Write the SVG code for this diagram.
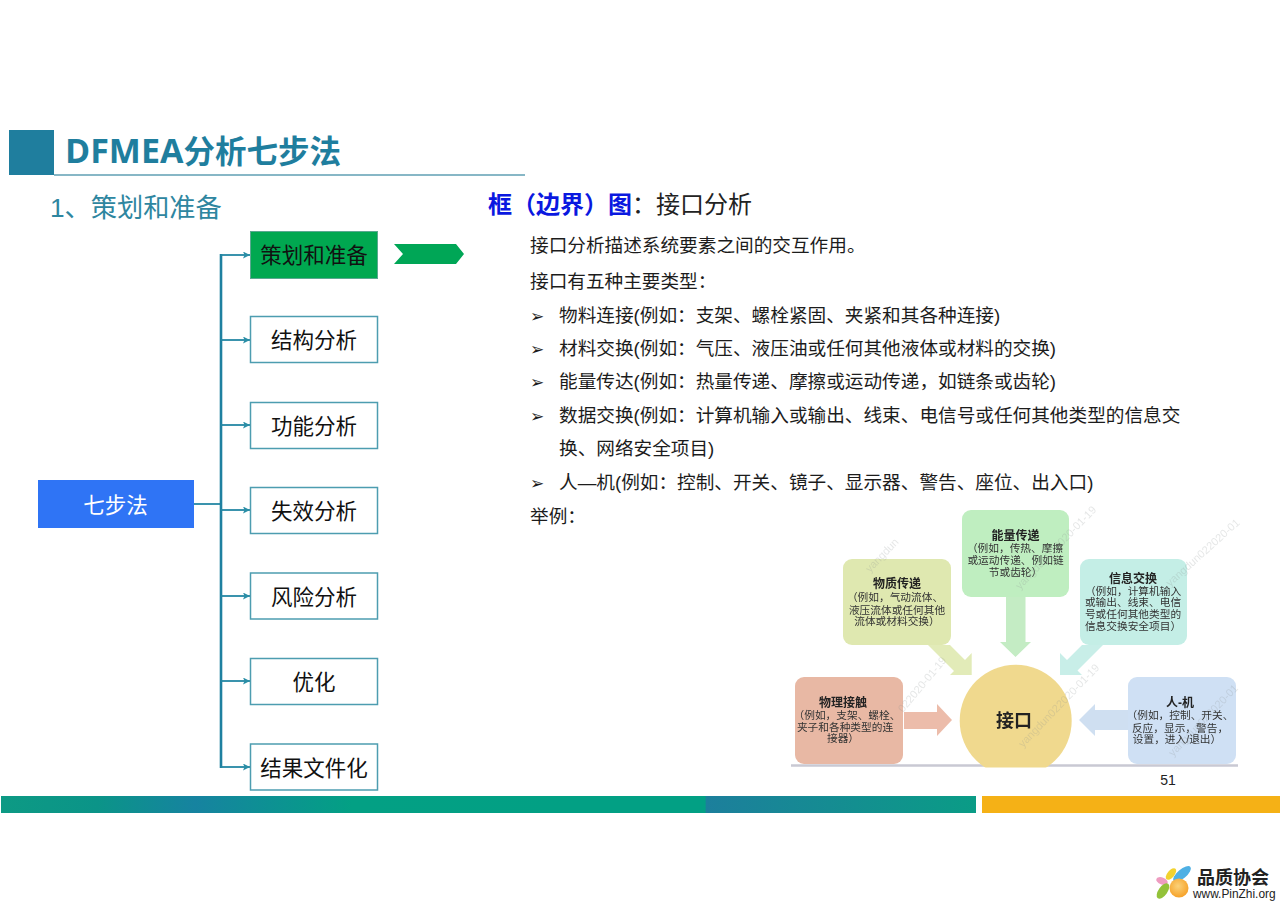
<svg xmlns="http://www.w3.org/2000/svg" width="1280" height="905" viewBox="0 0 1280 905">
<style>
text{font-family:"Liberation Sans","Noto Sans CJK SC",sans-serif}
.box{fill:#fff;stroke:#4d9db0;stroke-width:1.5}
.bt{font-size:21.5px;fill:#111;text-anchor:middle}
.li{font-size:18.65px;fill:#1c1c1c}
.bu{font-size:17px;fill:#1c1c1c;font-family:"DejaVu Sans",sans-serif}
.wire{fill:none;stroke:#2487a4;stroke-width:1.8}
.trunk{fill:none;stroke:#1f80a0;stroke-width:2.6}
.ih{font-size:12px;font-weight:700;fill:#222;text-anchor:middle}
.it{font-size:10.7px;fill:#333;text-anchor:middle}
.wm{font-size:11px;fill:#8a9090;opacity:.22;font-family:"Liberation Sans",sans-serif}
</style>
<defs>
<marker id="ah" markerWidth="8" markerHeight="8" refX="7" refY="3.5" orient="auto" markerUnits="userSpaceOnUse"><path d="M0 0L7 3.5L0 7L1.5 3.5Z" fill="#2a8ea6"/></marker>
<linearGradient id="bar1" gradientUnits="userSpaceOnUse" x1="0" y1="0" x2="976" y2="0">
<stop offset="0" stop-color="#0d9a84"/><stop offset=".1" stop-color="#0b9488"/><stop offset=".2" stop-color="#1683a0"/><stop offset=".36" stop-color="#03a084"/><stop offset=".59" stop-color="#02a084"/><stop offset=".7225" stop-color="#02a084"/><stop offset=".7235" stop-color="#1c7f9c"/><stop offset=".85" stop-color="#158c92"/><stop offset="1" stop-color="#0a9c86"/>
</linearGradient>
<radialGradient id="org" cx=".45" cy=".4" r=".7"><stop offset="0" stop-color="#fbd27a"/><stop offset="1" stop-color="#f59a1c"/></radialGradient>
<clipPath id="cc"><rect x="780" y="500" width="470" height="267.500"/></clipPath>
<filter id="soft" x="-2%" y="-2%" width="104%" height="104%"><feGaussianBlur stdDeviation="0.45"/></filter>
</defs>

<g id="title">
<rect x="9" y="130" width="45" height="45" fill="#1f7e9e"/>
<path d="M54 175H525" stroke="#5f9fb3" stroke-width="1.500"/>
<text x="65" y="163" font-size="31.500" font-weight="700" fill="#1f7e9e"><tspan font-family="'Open Sans',sans-serif" font-size="34">DFMEA</tspan>分析七步法</text>
<text x="50" y="217" font-size="26.200" fill="#2e86a0">1、策划和准备</text>
</g>

<g id="connectors">
<path class="wire" d="M194 504H221"/>
<path class="trunk" d="M221 254V768"/>
<path class="wire" marker-end="url(#ah)" d="M221 255H250"/>
<path class="wire" marker-end="url(#ah)" d="M221 340H250"/>
<path class="wire" marker-end="url(#ah)" d="M221 425H250"/>
<path class="wire" marker-end="url(#ah)" d="M221 510H250"/>
<path class="wire" marker-end="url(#ah)" d="M221 596H250"/>
<path class="wire" marker-end="url(#ah)" d="M221 681H250"/>
<path class="wire" marker-end="url(#ah)" d="M221 767H250"/>
</g>

<g id="node-root"><rect x="38" y="480" width="156" height="48" fill="#2f74f5"/><text x="115.500" y="513" font-size="21.500" fill="#fff" text-anchor="middle">七步法</text></g>
<g id="node-1"><rect x="250.500" y="231.500" width="127" height="47" fill="#00a850" stroke="#5aa890"/><text class="bt" x="314" y="263">策划和准备</text></g>
<g id="node-2"><rect class="box" x="250.500" y="316.500" width="127" height="46"/><text class="bt" x="314" y="348">结构分析</text></g>
<g id="node-3"><rect class="box" x="250.500" y="402.500" width="127" height="46"/><text class="bt" x="314" y="434">功能分析</text></g>
<g id="node-4"><rect class="box" x="250.500" y="487.500" width="127" height="46"/><text class="bt" x="314" y="519">失效分析</text></g>
<g id="node-5"><rect class="box" x="250.500" y="573" width="127" height="46"/><text class="bt" x="314" y="605">风险分析</text></g>
<g id="node-6"><rect class="box" x="250.500" y="658.500" width="127" height="46"/><text class="bt" x="314" y="690">优化</text></g>
<g id="node-7"><rect class="box" x="250.500" y="744" width="127" height="46"/><text class="bt" x="314" y="776">结果文件化</text></g>

<polygon id="chevron" points="394,244 456,244 464,254 456,264 394,264 403,254" fill="#00a656"/>

<g id="content">
<text x="488" y="213" font-size="24" font-weight="700" fill="#0a18e0">框（边界）图<tspan font-weight="400" fill="#222">：接口分析</tspan></text>
<text class="li" x="530" y="252">接口分析描述系统要素之间的交互作用。</text>
<text class="li" x="530" y="288">接口有五种主要类型：</text>
<text class="bu" x="530" y="322">➢</text><text class="li" x="559" y="322">物料连接(例如：支架、螺栓紧固、夹紧和其各种连接)</text>
<text class="bu" x="530" y="355">➢</text><text class="li" x="559" y="355">材料交换(例如：气压、液压油或任何其他液体或材料的交换)</text>
<text class="bu" x="530" y="388">➢</text><text class="li" x="559" y="388">能量传达(例如：热量传递、摩擦或运动传递，如链条或齿轮)</text>
<text class="bu" x="530" y="422">➢</text><text class="li" x="559" y="422">数据交换(例如：计算机输入或输出、线束、电信号或任何其他类型的信息交</text>
<text class="li" x="559" y="455">换、网络安全项目)</text>
<text class="bu" x="530" y="489">➢</text><text class="li" x="559" y="489">人—机(例如：控制、开关、镜子、显示器、警告、座位、出入口)</text>
<text class="li" x="530" y="523">举例：</text>
</g>

<g id="inset" filter="url(#soft)">
<path d="M791 765.500H1238" stroke="#c9c9d3" stroke-width="2.500"/>
<g id="inset-arrows">
<polygon points="1006,597 1025.500,597 1025.500,642 1031,642 1015.500,657 1000,642 1006,642" fill="#c4ecc4"/>
<polygon points="904,712 937,712 937,704 952,720 937,736 937,729 904,729" fill="#ecbcaa"/>
<polygon points="1128,710 1095,710 1095,704 1079,720 1095,736 1095,730 1128,730" fill="#cfdff1"/>
<polygon points="928,645 950,645 965,660 971.700,653 971.700,675 950,675 954,671" fill="#e2ebb8"/>
<polygon points="1082,645 1103,645 1077.500,670.500 1082,675 1060,675 1060,653 1067,660" fill="#c8eee8"/>
</g>
<g id="inset-physical"><rect x="795" y="677" width="108" height="87" rx="9" fill="#e8b8a4"/>
<text class="ih" x="843" y="707">物理接触</text><text class="it" x="847" y="719">（例如，支架、螺栓、</text><text class="it" x="845" y="731">夹子和各种类型的连</text><text class="it" x="843" y="742">接器）</text></g>
<g id="inset-material"><rect x="843" y="559" width="108" height="86" rx="9" fill="#dfe8b0"/>
<text class="ih" x="897" y="588">物质传递</text><text class="it" x="895" y="601">（例如，气动流体、</text><text class="it" x="897" y="614">液压流体或任何其他</text><text class="it" x="897" y="625">流体或材料交换）</text></g>
<g id="inset-energy"><rect x="962" y="510" width="107" height="87" rx="9" fill="#bfeec0"/>
<text class="ih" x="1015.500" y="540">能量传递</text><text class="it" x="1015" y="552">（例如，传热、摩擦</text><text class="it" x="1015.500" y="564">或运动传递、例如链</text><text class="it" x="1015.500" y="576">节或齿轮）</text></g>
<g id="inset-info"><rect x="1080" y="559" width="107" height="86" rx="9" fill="#c4eee6"/>
<text class="ih" x="1133" y="583">信息交换</text><text class="it" x="1133" y="595">（例如，计算机输入</text><text class="it" x="1133" y="606">或输出、线束、电信</text><text class="it" x="1133" y="618">号或任何其他类型的</text><text class="it" x="1133" y="630">信息交换安全项目）</text></g>
<g id="inset-hmi"><rect x="1128" y="677" width="108" height="87" rx="9" fill="#cfe0f4"/>
<text class="ih" x="1180" y="707">人-机</text><text class="it" x="1180" y="719">（例如，控制、开关、</text><text class="it" x="1180" y="732">反应，显示，警告，</text><text class="it" x="1177" y="743">设置，进入/退出）</text></g>
<g id="inset-core"><circle cx="1015.700" cy="720.700" r="56" fill="#f0d98e" clip-path="url(#cc)"/>
<text x="1014" y="727" font-size="18" font-weight="700" fill="#222" text-anchor="middle">接口</text></g>
<g id="watermarks" clip-path="url(#cc)">
<text class="wm" transform="translate(870 573) rotate(-46)">yangdun</text>
<text class="wm" transform="translate(903 713) rotate(-50)">022020-01-19</text>
<text class="wm" transform="translate(1020 590) rotate(-46)">yangdun022020-01-19</text>
<text class="wm" transform="translate(1023 748) rotate(-46)">yangdun022020-01-19</text>
<text class="wm" transform="translate(1170 587) rotate(-42)">yangdun022020-01</text>
<text class="wm" transform="translate(1173 757) rotate(-46)">yangdun022020-01</text>
</g>
</g>

<text id="page" x="1168" y="785" font-size="14" fill="#222" text-anchor="middle">51</text>

<g id="bars">
<rect x="1" y="796" width="975" height="17" fill="url(#bar1)"/>
<rect x="982" y="796" width="298" height="17" fill="#f5b116"/>
</g>

<g id="logo">
<ellipse cx="1182" cy="874" rx="11" ry="4.500" transform="rotate(-40 1182 874)" fill="#4fb0e4"/>
<ellipse cx="1171" cy="874" rx="7" ry="3.500" transform="rotate(-50 1171 874)" fill="#f2d22e"/>
<ellipse cx="1162" cy="881" rx="6" ry="3.500" transform="rotate(20 1162 881)" fill="#ee9cc0"/>
<ellipse cx="1163" cy="891" rx="9" ry="4.500" transform="rotate(-55 1163 891)" fill="#93c23a"/>
<circle cx="1179" cy="888" r="9.500" fill="url(#org)"/>
<text x="1197" y="884" font-size="18" font-weight="700" fill="#222">品质协会</text>
<text x="1193" y="898" font-size="11.900" fill="#222">www.PinZhi.org</text>
</g>
</svg>
